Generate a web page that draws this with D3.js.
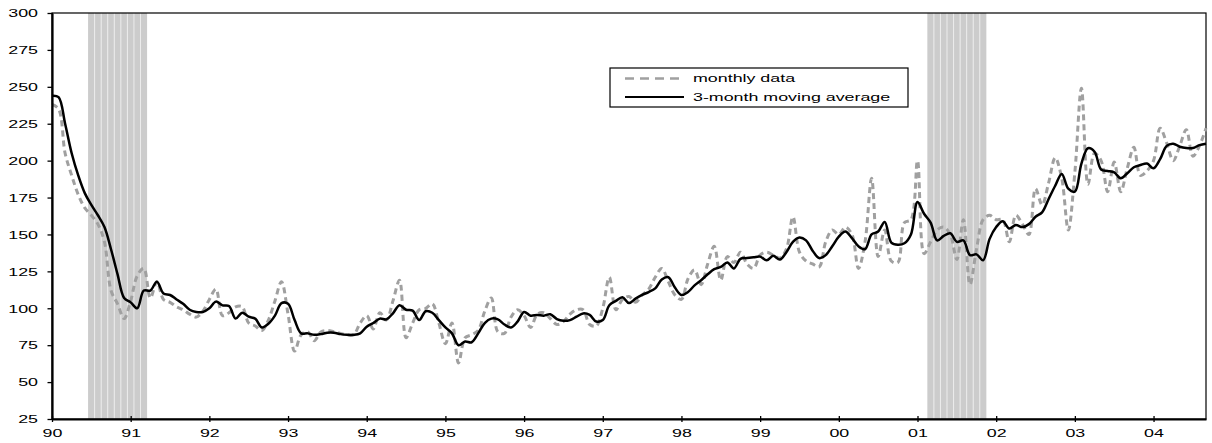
<!DOCTYPE html>
<html><head><meta charset="utf-8">
<script src="https://cdn.jsdelivr.net/npm/d3@7"></script>
<style>body{margin:0;background:#fff}svg{display:block}</style>
</head><body><svg id="c" width="1212" height="443"></svg>
<script>
// ---- data ----
const yearLabels = ["90","91","92","93","94","95","96","97","98","99","00","01","02","03","04"];
const yTicks = [25,50,75,100,125,150,175,200,225,250,275,300];
// monthly values, Jan 1990 .. Sep 2004
const monthly = [
238,235,205,190,177,168,163,157,145,112,103,93,
105,122,127,107,118,106,104,101,99,96,94,98,
106,113,95,97,101,101,90,88,85,92,105,118,
96,71,82,84,78,84,85,84,83,82,82,90,
95,86,97,92,105,119,80,90,99,100,103,90,
76,90,63,80,82,85,98,107,84,83,94,99,
95,87,96,97,93,89,91,96,99,99,89,88,
100,121,99,106,108,104,109,113,121,127,118,109,
106,120,126,116,130,142,119,135,131,138,130,127,
136,138,136,134,140,162,138,132,130,128,145,153,
150,155,150,127,145,188,135,153,132,131,158,160,
200,137,145,153,155,150,133,160,116,140,160,163,
160,160,145,163,157,150,181,170,185,202,188,153,
192,249,184,205,200,179,199,179,195,209,190,193,
200,222,212,200,210,221,203,210,222
];
const movingAvg = [
244,243,225,205,190,178,170,163,155,140,123,107,
104,100,112,112,118,110,109,106,103,99,97.5,97.5,
100,104.5,102,101.5,93,97,94.3,93,87,89.5,95,103.5,
103,92,83,83,82,82.5,83.5,83.5,82.5,82,82,83,
87.5,90,93,92.5,96.6,102,99,98.4,92,98,97,92,
87,83,75,77.5,77,83,90,93,92.5,89,87,91,
97.5,95,95.5,95,96,92.7,91.5,92,94.3,96.5,95.5,91,
92,102,105,107.5,103.5,106.5,109,111,113.5,119.5,121,114,
109,111,115.5,119,123,126.5,128,131,127,133.5,134,134.5,
135,132.5,135.5,133,138,145,148,146,139,134,136,142,
148.5,152,147.5,142,140,150,152,158.5,144.5,143,144,150,
172,164,158,146,149,150.8,145,146,136,136.5,132.5,147,
155,159,154,156.4,155,157,162,165,174,183,191,181,
179,198,208.4,206,194,193,192,188,191.5,195.5,197,198,
194.8,201,210,211.5,209.4,208.5,208.5,210.5,211.5
];
// recession periods as month indices (first, last)
const recessions = [[6,14],[134,142]];
const legendLabels = ["monthly data","3-month moving average"];

// ---- layout ----
const L=52, R=1206, T=13, B=419;
const FONT = "'Liberation Sans', Arial, sans-serif";
const FS = 10.5, SX = 1.7;
const svg = d3.select("#c");
const x = d3.scaleLinear().domain([0, monthly.length-1]).range([L,R]);
const y = d3.scaleLinear().domain([25,300]).range([B,T]);
const step = x(1)-x(0);

// recession shading (one bar per month)
const recMonths = recessions.flatMap(([a,b]) => d3.range(a,b+1));
svg.append("g").selectAll("rect").data(recMonths).join("rect")
  .attr("x", d => x(d-0.5)).attr("y", T)
  .attr("width", step).attr("height", B-T)
  .attr("fill", "#cccccc");
const recEdges = recessions.flatMap(([a,b]) => d3.range(a+1,b+1));
svg.append("g").selectAll("line").data(recEdges).join("line")
  .attr("x1", d => x(d-0.5)).attr("x2", d => x(d-0.5))
  .attr("y1", T).attr("y2", B)
  .attr("stroke", "#ececec").attr("stroke-width", 1);

// frame (top/right)
svg.append("rect").attr("x", L).attr("y", T).attr("width", R-L).attr("height", B-T)
  .attr("fill","none").attr("stroke","#000").attr("stroke-width",1.2);

// lines
const line = d3.line().x((d,i)=>x(i)).y(d=>y(d)).curve(d3.curveCatmullRom.alpha(0.5));
svg.append("path").datum(monthly).attr("d", line)
  .attr("fill","none").attr("stroke","#a0a0a0").attr("stroke-width",3)
  .attr("stroke-dasharray","6,4");
svg.append("path").datum(movingAvg).attr("d", line)
  .attr("fill","none").attr("stroke","#000").attr("stroke-width",2.5)
  .attr("stroke-linejoin","round");

// y axis
const yAxis = svg.append("g").attr("transform", `translate(${L},0)`)
  .call(d3.axisLeft(y).tickValues(yTicks).tickSizeInner(4).tickSizeOuter(0).tickFormat(d3.format("d")));
yAxis.select(".domain").attr("stroke-width",2.2);
yAxis.selectAll(".tick line").attr("x2",-4.5).attr("x1",1).attr("stroke-width",1.3);
yAxis.selectAll(".tick text")
  .attr("x",null).attr("dy","0.36em")
  .attr("transform", `translate(-14,0) scale(${SX},1)`)
  .attr("font-family", FONT).attr("font-size", FS).attr("fill","#000");

// x axis
const yearTicks = yearLabels.map((d,i)=>i*12);
const xAxis = svg.append("g").attr("transform", `translate(0,${B})`)
  .call(d3.axisBottom(x).tickValues(yearTicks).tickSizeInner(3).tickSizeOuter(0)
    .tickFormat((d,i)=>yearLabels[i]));
xAxis.select(".domain").attr("stroke-width",2.2);
xAxis.selectAll(".tick line").attr("y1",-3).attr("y2",3).attr("stroke-width",1.3);
xAxis.selectAll(".tick text")
  .attr("y",null).attr("dy",null)
  .attr("transform", `translate(0,18) scale(${SX},1)`)
  .attr("font-family", FONT).attr("font-size", FS).attr("fill","#000");

// legend
const lg = svg.append("g");
lg.append("rect").attr("x",610).attr("y",68).attr("width",298).attr("height",39)
  .attr("fill","#fff").attr("stroke","#000").attr("stroke-width",1.2);
const legRows = [
  {label: legendLabels[0], color:"#a0a0a0", dash:"9,6", w:2.5, y:78.5},
  {label: legendLabels[1], color:"#000", dash:null, w:2.2, y:97}
];
legRows.forEach(r=>{
  lg.append("line").attr("x1",625).attr("x2",684).attr("y1",r.y).attr("y2",r.y)
    .attr("stroke",r.color).attr("stroke-width",r.w).attr("stroke-dasharray",r.dash);
  lg.append("text").text(r.label)
    .attr("transform", `translate(693,${r.y+3.5}) scale(${SX},1)`)
    .attr("font-family", FONT).attr("font-size", FS).attr("fill","#000");
});
</script></body></html>
